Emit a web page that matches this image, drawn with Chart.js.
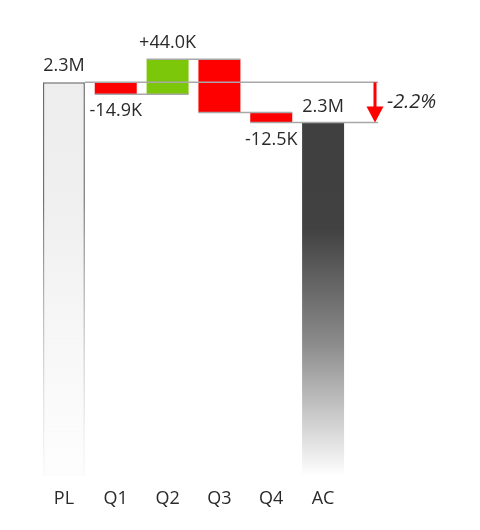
<!DOCTYPE html>
<html>
<head>
<meta charset="utf-8">
<script src="https://cdn.jsdelivr.net/npm/chart.js@4"></script>
<style>
html,body{margin:0;padding:0;background:#fff;}
#wrap{width:480px;height:530px;position:relative;}
</style>
</head>
<body>
<div id="wrap"><canvas id="c"></canvas></div>
<script>
// ---- data (values in thousands) ----
const categories = ['PL', 'Q1', 'Q2', 'Q3', 'Q4', 'AC'];
const planValue = 2310;
const quarterDeltas = [-14.9, 44.0, -67.2, -12.5];
const valueLabels = ['2.3M', '-14.9K', '+44.0K', '', '-12.5K', '2.3M'];
const varianceLabel = '-2.2%';
const axisMin = 1813;
const axisMax = 2376;

// ---- derived ----
const actualValue = planValue + quarterDeltas.reduce((a, b) => a + b, 0);
const barData = [[axisMin, planValue]];
let running = planValue;
quarterDeltas.forEach(d => { barData.push([running, running + d]); running += d; });
barData.push([axisMin, actualValue]);

const FONT = '"Open Sans", "Noto Sans", sans-serif';
const RED = '#FF0000', GREEN = '#7DC70A';

function fadeGradient(chart, topVal, stops) {
  const area = chart.chartArea;
  if (!area) return stops[0][1];
  const y0 = chart.scales.y.getPixelForValue(topVal);
  const g = chart.ctx.createLinearGradient(0, y0, 0, area.bottom);
  stops.forEach(s => g.addColorStop(s[0], s[1]));
  return g;
}

const overlayPlugin = {
  id: 'overlay',
  afterDatasetsDraw(chart) {
    const ctx = chart.ctx, y = chart.scales.y, area = chart.chartArea;
    const meta = chart.getDatasetMeta(0).data;
    const left = i => meta[i].x - meta[i].width / 2;
    const right = i => meta[i].x + meta[i].width / 2;
    const arrowX = area.right + 26;
    const yPlan = y.getPixelForValue(planValue);
    const yAct = y.getPixelForValue(actualValue);
    ctx.save();
    ctx.strokeStyle = '#A8A8A8';
    ctx.lineWidth = 1.5;
    const hline = (x1, x2, yy) => { ctx.beginPath(); ctx.moveTo(x1, yy); ctx.lineTo(x2, yy); ctx.stroke(); };
    hline(right(0), arrowX + 3, yPlan);
    for (let i = 1; i <= quarterDeltas.length; i++) {
      const yy = y.getPixelForValue(barData[i][1]);
      if (i === quarterDeltas.length) hline(left(i), arrowX + 3, yy);
      else hline(left(i), right(i + 1), yy);
    }
    // variance arrow
    ctx.fillStyle = RED;
    const headH = 16, headW = 17, shaft = 3;
    ctx.fillRect(arrowX - shaft / 2, yPlan, shaft, yAct - yPlan - headH + 1);
    ctx.beginPath();
    ctx.moveTo(arrowX - headW / 2, yAct - headH);
    ctx.lineTo(arrowX + headW / 2, yAct - headH);
    ctx.lineTo(arrowX, yAct);
    ctx.closePath();
    ctx.fill();
    // variance label
    ctx.fillStyle = '#2a2a2a';
    ctx.font = 'italic 20px ' + FONT;
    ctx.textAlign = 'left';
    ctx.textBaseline = 'middle';
    ctx.fillText(varianceLabel, arrowX + 12, (yPlan + yAct) / 2);
    // value labels
    ctx.font = '18px ' + FONT;
    ctx.textAlign = 'center';
    barData.forEach((b, i) => {
      const txt = valueLabels[i];
      if (!txt) return;
      const hi = Math.max(b[0], b[1]), lo = Math.min(b[0], b[1]);
      const up = (i === 0 || i === barData.length - 1) || b[1] > b[0];
      const yy = up ? y.getPixelForValue(hi) - 16 : y.getPixelForValue(lo) + 17;
      ctx.fillText(txt, meta[i].x, yy);
    });
    ctx.restore();
  }
};

new Chart(document.getElementById('c'), {
  type: 'bar',
  data: {
    labels: categories,
    datasets: [{
      data: barData,
      backgroundColor(c) {
        const i = c.dataIndex, ch = c.chart;
        if (i === 0) return fadeGradient(ch, planValue, [[0, '#EDEDED'], [0.35, '#F0F0F0'], [1, 'rgba(245,245,245,0.2)']]);
        if (i === barData.length - 1) return fadeGradient(ch, actualValue, [[0, '#404040'], [0.3, '#414141'], [0.62, '#8A8A8A'], [1, 'rgba(255,255,255,1)']]);
        return barData[i][1] > barData[i][0] ? GREEN : RED;
      },
      borderColor(c) {
        if (c.dataIndex !== 0) return 'rgba(0,0,0,0)';
        return fadeGradient(c.chart, planValue, [[0, '#6A6A6A'], [0.3, '#707070'], [1, 'rgba(200,200,200,0.1)']]);
      },
      borderWidth: [1.5, 0, 0, 0, 0, 0],
      borderSkipped: 'start',
      categoryPercentage: 1,
      barPercentage: 0.81
    }]
  },
  options: {
    responsive: true,
    maintainAspectRatio: false,
    animation: false,
    layout: { padding: { left: 38, right: 131, top: 30, bottom: 8 } },
    plugins: { legend: { display: false }, tooltip: { enabled: false } },
    scales: {
      x: {
        grid: { display: false, drawTicks: false },
        border: { display: false },
        ticks: { color: '#2a2a2a', font: { family: FONT, size: 18 }, padding: 12 }
      },
      y: { display: false, min: axisMin, max: axisMax }
    }
  },
  plugins: [overlayPlugin]
});
</script>
</body>
</html>
